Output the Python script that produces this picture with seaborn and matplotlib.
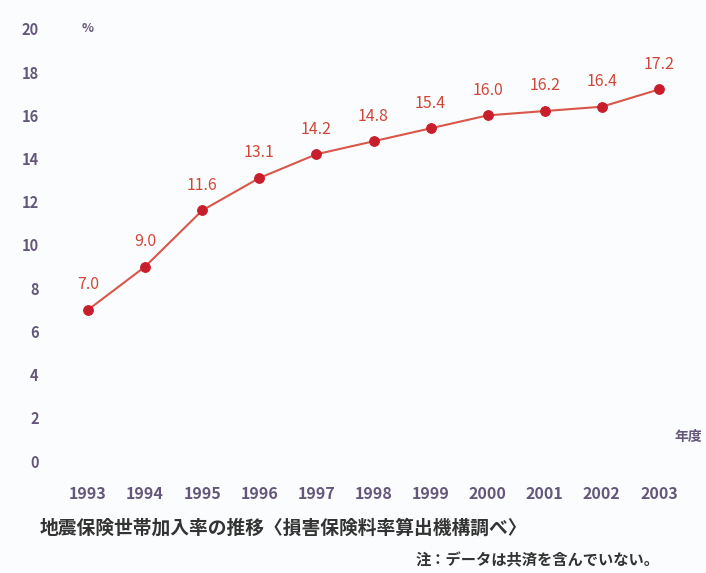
import pandas as pd
import numpy as np
import matplotlib.pyplot as plt
import seaborn as sns

# data
years = [1993, 1994, 1995, 1996, 1997, 1998, 1999, 2000, 2001, 2002, 2003]
rates = [7.0, 9.0, 11.6, 13.1, 14.2, 14.8, 15.4, 16.0, 16.2, 16.4, 17.2]
yticks = [0, 2, 4, 6, 8, 10, 12, 14, 16, 18, 20]

title = '地震保険世帯加入率の推移〈損害保険料率算出機構調べ〉'
note = '注：データは共済を含んでいない。'

data = pd.DataFrame({'year': years, 'rate': rates})

sns.set_style('white')
plt.rcParams['font.family'] = ['Noto Sans CJK JP', 'DejaVu Sans']

fig = plt.figure(figsize=(7.06, 5.73), dpi=100)
fig.patch.set_facecolor('#fbfcfd')
ax = fig.add_axes([0.0843, 0.1728, 0.8895, 0.7993])
ax.set_facecolor('#fbfcfd')

sns.lineplot(data=data, x='year', y='rate', ax=ax, color='#d9574a', linewidth=1.5,
             marker='o', markersize=7, markerfacecolor='#c81e2c', markeredgecolor='#c81e2c')

for x, y in zip(years, rates):
    ax.annotate(f'{y:.1f}', (x, y), xytext=(0, 12), textcoords='offset points',
                ha='center', va='bottom', color='#d0473a', fontsize=11.5)

tick_color = '#64577a'
ax.set_xlim(1992.5, 2003.5)
ax.set_ylim(-0.6, 20.6)
ax.set_xticks(years)
ax.set_xticklabels([str(y) for y in years], fontweight='bold', fontsize=11.5)
ax.set_yticks(yticks)
ax.set_yticklabels([str(t) for t in yticks], fontweight='bold', fontsize=10.5)
ax.tick_params(axis='both', length=0, colors=tick_color)
ax.tick_params(axis='y', pad=15)
ax.tick_params(axis='x', pad=9)
ax.set_xlabel('')
ax.set_ylabel('')
sns.despine(ax=ax, left=True, bottom=True)

ax.text(1993, 20, '%', ha='center', va='center', color=tick_color, fontsize=9, fontweight='bold')
fig.text(688 / 706, 1 - 437 / 573, '年度', ha='center', va='center', color=tick_color,
         fontsize=10, fontweight='bold')

fig.text(40 / 706, 1 - 528 / 573, title, ha='left', va='center', color='#333333',
         fontsize=13.5, fontweight='bold')
fig.text(660 / 706, 1 - 560 / 573, note, ha='right', va='center', color='#333333',
         fontsize=11, fontweight='bold')

plt.savefig('out.png', dpi=100, facecolor=fig.get_facecolor())
